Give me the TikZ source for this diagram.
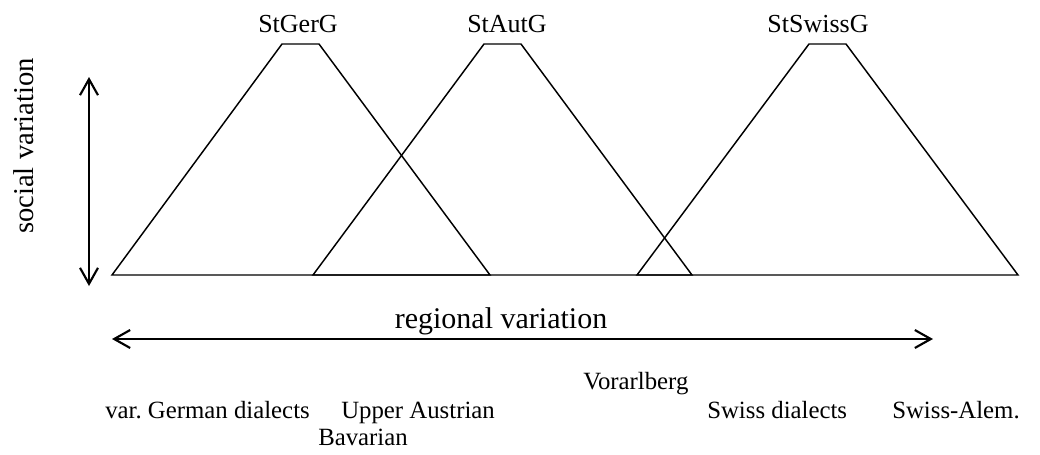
\documentclass[tikz,border=0pt]{standalone}
\usepackage{fontspec}
\setmainfont{Liberation Serif}
\usetikzlibrary{arrows.meta}
\frenchspacing
\tikzset{
  trap/.style={line width=1.1pt, line join=miter},
  varrow/.style={line width=1.6pt, {Straight Barb[length=12pt,width=13.5pt]}-{Straight Barb[length=12pt,width=13.5pt]}},
  title/.style={inner sep=0pt, anchor=base, font=\fontsize{19.5}{22}\selectfont},
  lab/.style={inner sep=0pt, anchor=base west, font=\fontsize{18.6}{22}\selectfont},
  axis/.style={inner sep=0pt, anchor=base, font=\fontsize{22.5}{26}\selectfont}
}
\begin{document}
\begin{tikzpicture}[x=0.75pt,y=-0.75pt]
\useasboundingbox (0,0) rectangle (1040,454);
% trapezoids
\draw[trap] (112,275) -- (282,44) -- (319,44) -- (490,275) -- cycle;
\draw[trap] (313,275) -- (484,44) -- (521,44) -- (692,275) -- cycle;
\draw[trap] (637,275) -- (809,44) -- (846,44) -- (1018,275) -- cycle;
% titles
\node[title] (ger) at (298,32) {StGerG};
\node[title] (aut) at (507,32) {StAutG};
\node[title] (swi) at (818,32) {StSwissG};
% arrows
\coordinate (vt) at (89,77);
\coordinate (vb) at (89,286);
\draw[varrow] (vt) -- (vb);
\coordinate (hl) at (112,339);
\coordinate (hr) at (933,339);
\draw[varrow] (hl) -- (hr);
\node[axis, rotate=90, font=\fontsize{21.5}{26}\selectfont] (soc) at (33,146) {social variation};
\node[axis] (reg) at (501,328) {regional variation};
% bottom labels
\node[lab] (l1) at (105,418) {var. German dialects};
\node[lab] (l2) at (341,418) {Upper Austrian};
\node[lab] (l3) at (318,445) {Bavarian};
\node[lab] (l4) at (583,389) {Vorarlberg};
\node[lab] (l5) at (707,418) {Swiss dialects};
\node[lab] (l6) at (892,418) {Swiss-Alem.};
\end{tikzpicture}
\end{document}
